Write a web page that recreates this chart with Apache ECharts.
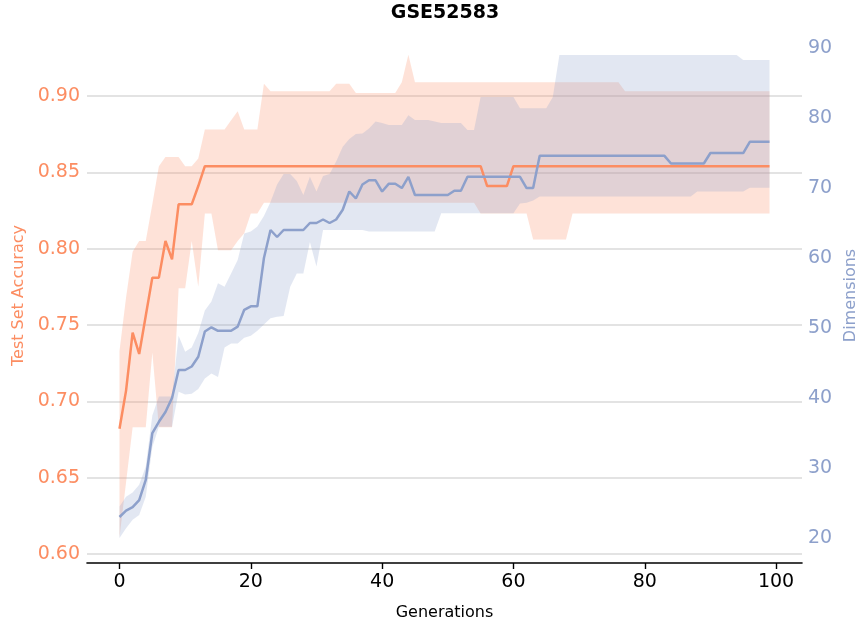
<!DOCTYPE html>
<html>
<head>
<meta charset="utf-8">
<script src="https://cdn.jsdelivr.net/npm/echarts@6/dist/echarts.min.js"></script>
<style>html,body{margin:0;padding:0;background:#fff}#chart{width:859px;height:623px}</style>
</head>
<body>
<div id="chart"></div>
<script>
// ---- data ----
const generations = Array.from({length: 100}, (_, i) => i);
const xTicks = [0, 20, 40, 60, 80, 100];
const accTicks = [0.60, 0.65, 0.70, 0.75, 0.80, 0.85, 0.90];
const dimTicks = [20, 30, 40, 50, 60, 70, 80, 90];

const accMean = [
 0.682,0.707,0.745,0.731,0.756,0.781,0.781,0.805,0.793,0.829,
 0.829,0.829,0.841,0.854,0.854,0.854,0.854,0.854,0.854,0.854,
 0.854,0.854,0.854,0.854,0.854,0.854,0.854,0.854,0.854,0.854,
 0.854,0.854,0.854,0.854,0.854,0.854,0.854,0.854,0.854,0.854,
 0.854,0.854,0.854,0.854,0.854,0.854,0.854,0.854,0.854,0.854,
 0.854,0.854,0.854,0.854,0.854,0.854,0.841,0.841,0.841,0.841,
 0.854,0.854,0.854,0.854,0.854,0.854,0.854,0.854,0.854,0.854,
 0.854,0.854,0.854,0.854,0.854,0.854,0.854,0.854,0.854,0.854,
 0.854,0.854,0.854,0.854,0.854,0.854,0.854,0.854,0.854,0.854,
 0.854,0.854,0.854,0.854,0.854,0.854,0.854,0.854,0.854,0.854
];
const accHi = [
 0.733,0.768,0.798,0.805,0.805,0.829,0.854,0.860,0.860,0.860,
 0.854,0.854,0.859,0.878,0.878,0.878,0.878,0.884,0.890,0.878,
 0.878,0.878,0.908,0.903,0.903,0.903,0.903,0.903,0.903,0.903,
 0.903,0.903,0.903,0.908,0.908,0.908,0.902,0.902,0.902,0.902,
 0.902,0.902,0.902,0.909,0.927,0.909,0.909,0.909,0.909,0.909,
 0.909,0.909,0.909,0.909,0.909,0.909,0.909,0.909,0.909,0.909,
 0.909,0.909,0.909,0.909,0.909,0.909,0.909,0.909,0.909,0.909,
 0.909,0.909,0.909,0.909,0.909,0.909,0.909,0.903,0.903,0.903,
 0.903,0.903,0.903,0.903,0.903,0.903,0.903,0.903,0.903,0.903,
 0.903,0.903,0.903,0.903,0.903,0.903,0.903,0.903,0.903,0.903
];
const accLo = [
 0.611,0.647,0.683,0.683,0.683,0.732,0.683,0.683,0.683,0.774,
 0.774,0.805,0.775,0.823,0.823,0.799,0.799,0.799,0.805,0.810,
 0.823,0.823,0.830,0.830,0.830,0.830,0.830,0.830,0.830,0.830,
 0.830,0.830,0.830,0.830,0.830,0.830,0.830,0.830,0.830,0.830,
 0.830,0.830,0.830,0.830,0.830,0.830,0.830,0.830,0.830,0.830,
 0.830,0.830,0.830,0.830,0.830,0.823,0.823,0.823,0.823,0.823,
 0.823,0.823,0.823,0.806,0.806,0.806,0.806,0.806,0.806,0.823,
 0.823,0.823,0.823,0.823,0.823,0.823,0.823,0.823,0.823,0.823,
 0.823,0.823,0.823,0.823,0.823,0.823,0.823,0.823,0.823,0.823,
 0.823,0.823,0.823,0.823,0.823,0.823,0.823,0.823,0.823,0.823
];
const dimMean = [
 23.0,23.9,24.4,25.4,28.3,35.0,36.6,38.0,40.0,44.0,
 44.0,44.5,45.9,49.5,50.1,49.6,49.6,49.6,50.2,52.6,
 53.1,53.1,60.0,64.0,63.0,64.0,64.0,64.0,64.0,65.0,
 65.0,65.5,65.0,65.5,66.9,69.5,68.5,70.5,71.1,71.1,
 69.5,70.6,70.6,70.0,71.6,69.0,69.0,69.0,69.0,69.0,
 69.0,69.6,69.6,71.6,71.6,71.6,71.6,71.6,71.6,71.6,
 71.6,71.6,70.0,70.0,74.6,74.6,74.6,74.6,74.6,74.6,
 74.6,74.6,74.6,74.6,74.6,74.6,74.6,74.6,74.6,74.6,
 74.6,74.6,74.6,74.6,73.5,73.5,73.5,73.5,73.5,73.5,
 75.0,75.0,75.0,75.0,75.0,75.0,76.6,76.6,76.6,76.6
];
const dimHi = [
 24.5,25.9,26.5,27.6,30.2,37.5,40.2,40.2,40.2,48.9,
 46.6,47.2,49.3,52.5,53.8,56.4,55.9,57.8,59.7,63.5,
 63.8,64.5,66.0,68.0,70.5,72.0,72.0,71.0,69.0,71.6,
 69.5,71.7,72.0,73.8,75.9,77.0,77.7,77.8,78.5,79.5,
 79.3,79.0,79.0,79.0,80.4,79.7,79.7,79.7,79.5,79.3,
 79.3,79.3,79.3,78.3,78.3,83.0,83.0,83.0,83.0,83.0,
 83.0,81.4,81.4,81.4,81.4,81.4,83.0,89.0,89.0,89.0,
 89.0,89.0,89.0,89.0,89.0,89.0,89.0,89.0,89.0,89.0,
 89.0,89.0,89.0,89.0,89.0,89.0,89.0,89.0,89.0,89.0,
 89.0,89.0,89.0,89.0,89.0,88.3,88.3,88.3,88.3,88.3
];
const dimLo = [
 20.0,21.4,22.6,23.3,25.9,33.0,35.9,35.9,35.9,40.9,
 40.5,40.6,41.3,42.8,43.5,43.0,47.2,47.8,47.8,48.6,
 48.9,49.6,50.5,51.4,51.6,51.7,55.9,57.8,57.8,62.3,
 58.8,64.0,64.0,64.0,64.0,64.0,64.0,64.0,63.8,63.8,
 63.8,63.8,63.8,63.8,63.8,63.8,63.8,63.8,63.8,66.4,
 66.4,66.4,66.4,66.4,66.4,66.4,66.4,66.4,66.4,66.4,
 66.4,67.8,67.9,68.2,68.8,68.8,68.8,68.8,68.8,68.8,
 68.8,68.8,68.8,68.8,68.8,68.8,68.8,68.8,68.8,68.8,
 68.8,68.8,68.8,68.8,68.8,68.8,68.8,68.8,69.5,69.5,
 69.5,69.5,69.5,69.5,69.5,69.5,70.05,70.05,70.05,70.05
];

// ---- styling ----
const ORANGE = '#fc8d62';
const BLUE = '#8da0cb';
const FONT = 'DejaVu Sans';

const pairs = (ys) => generations.map((g, i) => [g, ys[i]]);
const bandData = (lo, hi) => generations.map((g, i) => [g, lo[i], hi[i]]);

// band drawn as one polygon through the series' own coordinate system
function bandRenderer(lo, hi, color) {
  return function (params, api) {
    if (params.dataIndex !== 0) return null;
    const top = [], bottom = [];
    for (let i = 0; i < generations.length; i++) {
      top.push(api.coord([generations[i], hi[i]]));
      bottom.push(api.coord([generations[i], lo[i]]));
    }
    return {
      type: 'polygon',
      shape: {points: top.concat(bottom.reverse())},
      style: {fill: color, opacity: 0.25, stroke: null}
    };
  };
}

const chart = echarts.init(document.getElementById('chart'), null, {renderer: 'canvas'});
chart.setOption({
  animation: false,
  backgroundColor: '#ffffff',
  textStyle: {fontFamily: FONT},
  graphic: [{
    type: 'text', x: 445, y: 13,
    style: {text: 'GSE52583', fontFamily: FONT, fontSize: 19, fontWeight: 'bold', fill: '#000',
      align: 'center', verticalAlign: 'middle', textAlign: 'center', textVerticalAlign: 'middle'}
  }],
  grid: {left: 87, right: 57, top: 28, bottom: 60, containLabel: false, outerBoundsMode: 'none'},
  xAxis: {
    type: 'value', min: -4.95, max: 103.95,
    name: 'Generations', nameLocation: 'middle', nameGap: 42,
    nameTextStyle: {fontFamily: FONT, fontSize: 16, color: '#000'},
    axisLine: {show: true, onZero: false, lineStyle: {color: '#000', width: 1.6}},
    axisTick: {show: true, length: 6, lineStyle: {color: '#000', width: 1.4}, customValues: xTicks},
    axisLabel: {customValues: xTicks, fontFamily: FONT, fontSize: 19, color: '#000', margin: 10},
    splitLine: {show: false}
  },
  yAxis: [{
    type: 'value', position: 'left', min: 0.5941, max: 0.9445,
    name: 'Test Set Accuracy', nameLocation: 'middle', nameGap: 60, nameRotate: 90,
    nameTextStyle: {fontFamily: FONT, fontSize: 16, color: ORANGE},
    axisLine: {show: false}, axisTick: {show: false, customValues: accTicks},
    axisLabel: {customValues: accTicks, fontFamily: FONT, fontSize: 19, color: ORANGE, margin: 7,
      formatter: (v) => v.toFixed(2)},
    splitLine: {show: true, lineStyle: {color: '#e3e3e3', width: 1.8}}
  }, {
    type: 'value', position: 'right', min: 16.43, max: 92.86,
    name: 'Dimensions', nameLocation: 'middle', nameGap: 40, nameRotate: 90,
    nameTextStyle: {fontFamily: FONT, fontSize: 16, color: BLUE},
    axisLine: {show: false}, axisTick: {show: false, customValues: dimTicks},
    axisLabel: {customValues: dimTicks, fontFamily: FONT, fontSize: 19, color: BLUE, margin: 6},
    splitLine: {show: false}
  }],
  series: [
    {type: 'custom', name: 'accBand', yAxisIndex: 0, data: bandData(accLo, accHi),
     encode: {x: 0, y: [1, 2]}, renderItem: bandRenderer(accLo, accHi, ORANGE), silent: true},
    {type: 'line', name: 'Test Set Accuracy', yAxisIndex: 0, data: pairs(accMean),
     showSymbol: false, symbol: 'none', lineStyle: {color: ORANGE, width: 2.5}},
    {type: 'custom', name: 'dimBand', yAxisIndex: 1, data: bandData(dimLo, dimHi),
     encode: {x: 0, y: [1, 2]}, renderItem: bandRenderer(dimLo, dimHi, BLUE), silent: true},
    {type: 'line', name: 'Dimensions', yAxisIndex: 1, data: pairs(dimMean),
     showSymbol: false, symbol: 'none', lineStyle: {color: BLUE, width: 2.5}}
  ]
});
</script>
</body>
</html>
